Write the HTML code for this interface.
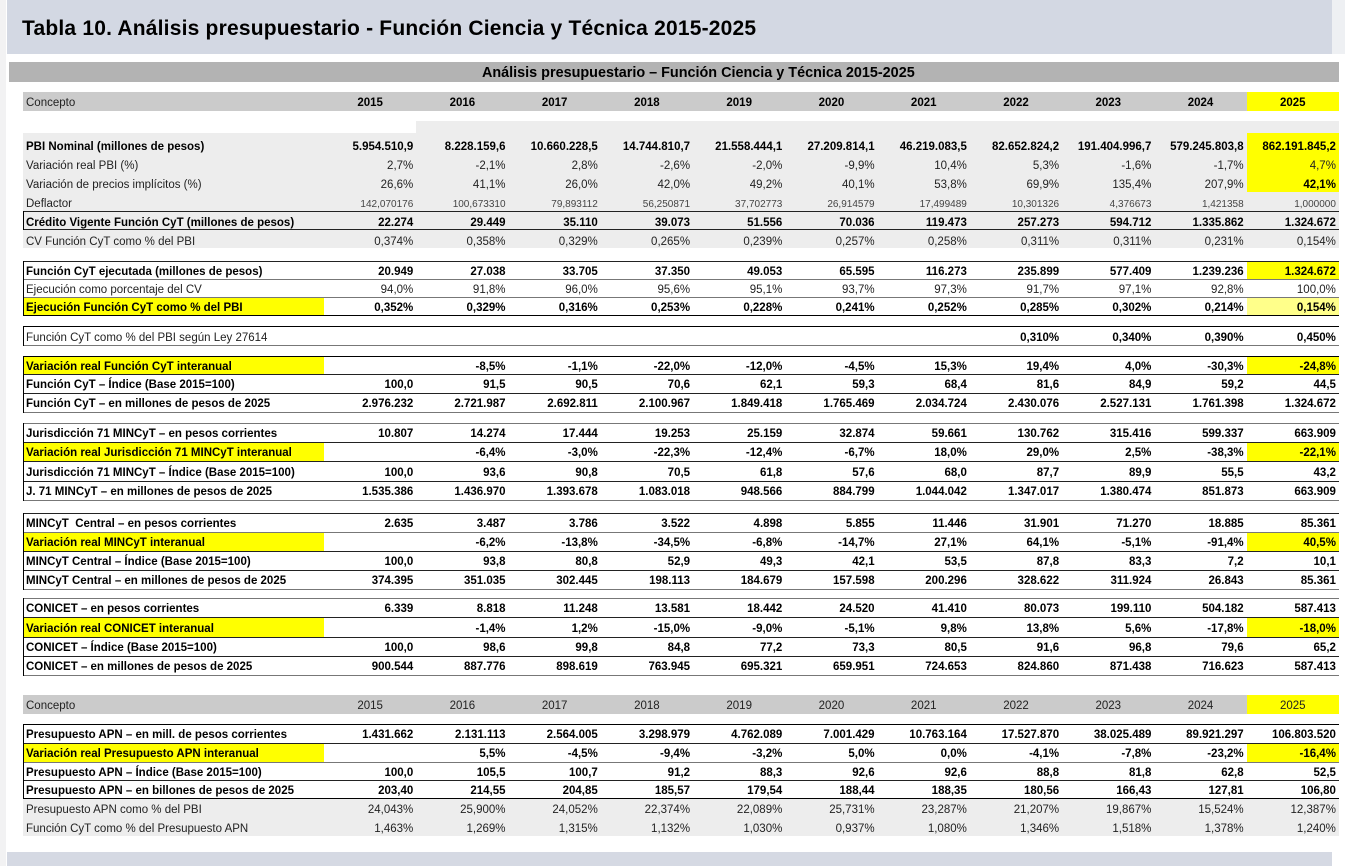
<!DOCTYPE html>
<html><head><meta charset="utf-8">
<style>
html,body{margin:0;padding:0}
body{width:1345px;height:866px;position:relative;background:#fff;font-family:"Liberation Sans",Arial,sans-serif;overflow:hidden}
.a{position:absolute}
.r{position:absolute;left:23px;width:1316px;display:flex;font-size:11.5px;color:#222}
.r div{height:100%;box-sizing:border-box;white-space:nowrap;padding-top:2px}
.l{width:301px;padding-left:3px;flex:none}
.v{width:92.27px;text-align:right;padding-right:3px;flex:none}
.c{width:92.27px;text-align:center;flex:none}
.b{font-weight:bold;color:#000}
.y{background:#ffff00}
.py{background:#ffff8a}
.s{font-size:10px;color:#444}
.h{position:absolute;left:23px;width:1316px;height:1px;background:#222}
.hg{position:absolute;left:23px;width:1316px;height:1px;background:#777}
.vl{position:absolute;left:23px;width:1px;background:#000}
</style></head><body>
<div class="a" style="left:0;top:0;width:6px;height:866px;background:#f2f2f3"></div>
<div class="a" style="left:1332px;top:0;width:13px;height:54px;background:#eef0f3"></div>
<div class="a" style="left:7px;top:0;width:1325px;height:54px;background:#d3d8e3"></div>
<div class="a" style="left:22px;top:17px;font-size:21px;font-weight:bold;letter-spacing:0.2px;color:#000;line-height:24px;white-space:nowrap">Tabla 10. Análisis presupuestario - Función Ciencia y Técnica 2015-2025</div>
<div class="a" style="left:9px;top:62px;width:1330px;height:20px;background:#b3b3b3"></div>
<div class="a" style="left:482px;top:63px;height:20px;line-height:20px;font-size:14.4px;font-weight:bold;color:#000;white-space:nowrap">Análisis presupuestario – Función Ciencia y Técnica 2015-2025</div>
<div class="a" style="left:23px;top:92px;width:1316px;height:19px;background:#cbcbcb"></div>
<div class="r" style="top:92px;height:19px;line-height:19px"><div class="l">Concepto</div><div class="c b">2015</div><div class="c b">2016</div><div class="c b">2017</div><div class="c b">2018</div><div class="c b">2019</div><div class="c b">2020</div><div class="c b">2021</div><div class="c b">2022</div><div class="c b">2023</div><div class="c b">2024</div><div class="c b y">2025</div></div>
<div class="a" style="left:416px;top:121px;width:923px;height:12px;background:#ededed"></div>
<div class="a" style="left:23px;top:133px;width:1316px;height:115px;background:#ededed"></div>
<div class="a" style="left:1246.7px;top:133px;width:92.3px;height:59px;background:#ffff00"></div>
<div class="r b" style="top:136px;height:19px;line-height:19px"><div class="l">PBI Nominal (millones de pesos)</div><div class="v">5.954.510,9</div><div class="v">8.228.159,6</div><div class="v">10.660.228,5</div><div class="v">14.744.810,7</div><div class="v">21.558.444,1</div><div class="v">27.209.814,1</div><div class="v">46.219.083,5</div><div class="v">82.652.824,2</div><div class="v">191.404.996,7</div><div class="v">579.245.803,8</div><div class="v">862.191.845,2</div></div>
<div class="r" style="top:155px;height:19px;line-height:19px"><div class="l">Variación real PBI (%)</div><div class="v">2,7%</div><div class="v">-2,1%</div><div class="v">2,8%</div><div class="v">-2,6%</div><div class="v">-2,0%</div><div class="v">-9,9%</div><div class="v">10,4%</div><div class="v">5,3%</div><div class="v">-1,6%</div><div class="v">-1,7%</div><div class="v">4,7%</div></div>
<div class="r" style="top:174px;height:19px;line-height:19px"><div class="l">Variación de precios implícitos (%)</div><div class="v">26,6%</div><div class="v">41,1%</div><div class="v">26,0%</div><div class="v">42,0%</div><div class="v">49,2%</div><div class="v">40,1%</div><div class="v">53,8%</div><div class="v">69,9%</div><div class="v">135,4%</div><div class="v">207,9%</div><div class="v b">42,1%</div></div>
<div class="r" style="top:193px;height:19px;line-height:19px"><div class="l">Deflactor</div><div class="v s">142,070176</div><div class="v s">100,673310</div><div class="v s">79,893112</div><div class="v s">56,250871</div><div class="v s">37,702773</div><div class="v s">26,914579</div><div class="v s">17,499489</div><div class="v s">10,301326</div><div class="v s">4,376673</div><div class="v s">1,421358</div><div class="v s">1,000000</div></div>
<div class="r b" style="top:212px;height:18px;line-height:18px"><div class="l">Crédito Vigente Función CyT (millones de pesos)</div><div class="v">22.274</div><div class="v">29.449</div><div class="v">35.110</div><div class="v">39.073</div><div class="v">51.556</div><div class="v">70.036</div><div class="v">119.473</div><div class="v">257.273</div><div class="v">594.712</div><div class="v">1.335.862</div><div class="v">1.324.672</div></div>
<div class="r" style="top:231px;height:18px;line-height:18px"><div class="l">CV Función CyT como % del PBI</div><div class="v">0,374%</div><div class="v">0,358%</div><div class="v">0,329%</div><div class="v">0,265%</div><div class="v">0,239%</div><div class="v">0,257%</div><div class="v">0,258%</div><div class="v">0,311%</div><div class="v">0,311%</div><div class="v">0,231%</div><div class="v">0,154%</div></div>
<div class="h" style="top:211px"></div><div class="h" style="top:229px"></div><div class="vl" style="top:211px;height:19px"></div>

<div class="r b" style="top:261px;height:18px;line-height:18px"><div class="l">Función CyT ejecutada (millones de pesos)</div><div class="v">20.949</div><div class="v">27.038</div><div class="v">33.705</div><div class="v">37.350</div><div class="v">49.053</div><div class="v">65.595</div><div class="v">116.273</div><div class="v">235.899</div><div class="v">577.409</div><div class="v">1.239.236</div><div class="v y">1.324.672</div></div>
<div class="r" style="top:279px;height:18px;line-height:18px"><div class="l">Ejecución como porcentaje del CV</div><div class="v">94,0%</div><div class="v">91,8%</div><div class="v">96,0%</div><div class="v">95,6%</div><div class="v">95,1%</div><div class="v">93,7%</div><div class="v">97,3%</div><div class="v">91,7%</div><div class="v">97,1%</div><div class="v">92,8%</div><div class="v">100,0%</div></div>
<div class="r b" style="top:297px;height:18px;line-height:18px"><div class="l y">Ejecución Función CyT como % del PBI</div><div class="v">0,352%</div><div class="v">0,329%</div><div class="v">0,316%</div><div class="v">0,253%</div><div class="v">0,228%</div><div class="v">0,241%</div><div class="v">0,252%</div><div class="v">0,285%</div><div class="v">0,302%</div><div class="v">0,214%</div><div class="v py">0,154%</div></div>
<div class="h" style="top:261px"></div><div class="hg" style="top:279px"></div><div class="hg" style="top:297px"></div><div class="h" style="top:315px;background:#000"></div><div class="vl" style="top:261px;height:55px"></div>

<div class="r" style="top:327px;height:19px;line-height:19px"><div class="l">Función CyT como % del PBI según Ley 27614</div><div class="v"></div><div class="v"></div><div class="v"></div><div class="v"></div><div class="v"></div><div class="v"></div><div class="v"></div><div class="v b">0,310%</div><div class="v b">0,340%</div><div class="v b">0,390%</div><div class="v b">0,450%</div></div>
<div class="h" style="top:326px;background:#000"></div><div class="hg" style="top:345px"></div><div class="vl" style="top:326px;height:20px"></div>

<div class="r b" style="top:356px;height:18px;line-height:18px"><div class="l y">Variación real Función CyT interanual</div><div class="v"></div><div class="v">-8,5%</div><div class="v">-1,1%</div><div class="v">-22,0%</div><div class="v">-12,0%</div><div class="v">-4,5%</div><div class="v">15,3%</div><div class="v">19,4%</div><div class="v">4,0%</div><div class="v">-30,3%</div><div class="v y">-24,8%</div></div>
<div class="r b" style="top:374px;height:19px;line-height:19px"><div class="l">Función CyT – Índice (Base 2015=100)</div><div class="v">100,0</div><div class="v">91,5</div><div class="v">90,5</div><div class="v">70,6</div><div class="v">62,1</div><div class="v">59,3</div><div class="v">68,4</div><div class="v">81,6</div><div class="v">84,9</div><div class="v">59,2</div><div class="v">44,5</div></div>
<div class="r b" style="top:393px;height:19px;line-height:19px"><div class="l">Función CyT – en millones de pesos de 2025</div><div class="v">2.976.232</div><div class="v">2.721.987</div><div class="v">2.692.811</div><div class="v">2.100.967</div><div class="v">1.849.418</div><div class="v">1.765.469</div><div class="v">2.034.724</div><div class="v">2.430.076</div><div class="v">2.527.131</div><div class="v">1.761.398</div><div class="v">1.324.672</div></div>
<div class="h" style="top:356px;background:#000"></div><div class="h" style="top:374px"></div><div class="h" style="top:393px"></div><div class="hg" style="top:412px"></div><div class="vl" style="top:356px;height:57px"></div>

<div class="r b" style="top:423px;height:19px;line-height:19px"><div class="l">Jurisdicción 71 MINCyT – en pesos corrientes</div><div class="v">10.807</div><div class="v">14.274</div><div class="v">17.444</div><div class="v">19.253</div><div class="v">25.159</div><div class="v">32.874</div><div class="v">59.661</div><div class="v">130.762</div><div class="v">315.416</div><div class="v">599.337</div><div class="v">663.909</div></div>
<div class="r b" style="top:442px;height:19px;line-height:19px"><div class="l y">Variación real Jurisdicción 71 MINCyT interanual</div><div class="v"></div><div class="v">-6,4%</div><div class="v">-3,0%</div><div class="v">-22,3%</div><div class="v">-12,4%</div><div class="v">-6,7%</div><div class="v">18,0%</div><div class="v">29,0%</div><div class="v">2,5%</div><div class="v">-38,3%</div><div class="v y">-22,1%</div></div>
<div class="r b" style="top:461px;height:20px;line-height:20px"><div class="l">Jurisdicción 71 MINCyT – Índice (Base 2015=100)</div><div class="v">100,0</div><div class="v">93,6</div><div class="v">90,8</div><div class="v">70,5</div><div class="v">61,8</div><div class="v">57,6</div><div class="v">68,0</div><div class="v">87,7</div><div class="v">89,9</div><div class="v">55,5</div><div class="v">43,2</div></div>
<div class="r b" style="top:481px;height:19px;line-height:19px"><div class="l">J. 71 MINCyT – en millones de pesos de 2025</div><div class="v">1.535.386</div><div class="v">1.436.970</div><div class="v">1.393.678</div><div class="v">1.083.018</div><div class="v">948.566</div><div class="v">884.799</div><div class="v">1.044.042</div><div class="v">1.347.017</div><div class="v">1.380.474</div><div class="v">851.873</div><div class="v">663.909</div></div>
<div class="hg" style="top:423px"></div><div class="h" style="top:442px"></div><div class="h" style="top:461px"></div><div class="h" style="top:481px"></div><div class="hg" style="top:500px"></div><div class="vl" style="top:423px;height:78px"></div>

<div class="r b" style="top:513px;height:19px;line-height:19px"><div class="l">MINCyT&nbsp; Central – en pesos corrientes</div><div class="v">2.635</div><div class="v">3.487</div><div class="v">3.786</div><div class="v">3.522</div><div class="v">4.898</div><div class="v">5.855</div><div class="v">11.446</div><div class="v">31.901</div><div class="v">71.270</div><div class="v">18.885</div><div class="v">85.361</div></div>
<div class="r b" style="top:532px;height:19px;line-height:19px"><div class="l y">Variación real MINCyT interanual</div><div class="v"></div><div class="v">-6,2%</div><div class="v">-13,8%</div><div class="v">-34,5%</div><div class="v">-6,8%</div><div class="v">-14,7%</div><div class="v">27,1%</div><div class="v">64,1%</div><div class="v">-5,1%</div><div class="v">-91,4%</div><div class="v y">40,5%</div></div>
<div class="r b" style="top:551px;height:19px;line-height:19px"><div class="l">MINCyT Central – Índice (Base 2015=100)</div><div class="v">100,0</div><div class="v">93,8</div><div class="v">80,8</div><div class="v">52,9</div><div class="v">49,3</div><div class="v">42,1</div><div class="v">53,5</div><div class="v">87,8</div><div class="v">83,3</div><div class="v">7,2</div><div class="v">10,1</div></div>
<div class="r b" style="top:570px;height:19px;line-height:19px"><div class="l">MINCyT Central – en millones de pesos de 2025</div><div class="v">374.395</div><div class="v">351.035</div><div class="v">302.445</div><div class="v">198.113</div><div class="v">184.679</div><div class="v">157.598</div><div class="v">200.296</div><div class="v">328.622</div><div class="v">311.924</div><div class="v">26.843</div><div class="v">85.361</div></div>
<div class="h" style="top:513px"></div><div class="hg" style="top:532px"></div><div class="h" style="top:551px"></div><div class="h" style="top:570px"></div><div class="hg" style="top:589px"></div><div class="vl" style="top:513px;height:77px"></div>

<div class="r b" style="top:598px;height:19px;line-height:19px"><div class="l">CONICET – en pesos corrientes</div><div class="v">6.339</div><div class="v">8.818</div><div class="v">11.248</div><div class="v">13.581</div><div class="v">18.442</div><div class="v">24.520</div><div class="v">41.410</div><div class="v">80.073</div><div class="v">199.110</div><div class="v">504.182</div><div class="v">587.413</div></div>
<div class="r b" style="top:617px;height:20px;line-height:20px"><div class="l y">Variación real CONICET interanual</div><div class="v"></div><div class="v">-1,4%</div><div class="v">1,2%</div><div class="v">-15,0%</div><div class="v">-9,0%</div><div class="v">-5,1%</div><div class="v">9,8%</div><div class="v">13,8%</div><div class="v">5,6%</div><div class="v">-17,8%</div><div class="v y">-18,0%</div></div>
<div class="r b" style="top:637px;height:19px;line-height:19px"><div class="l">CONICET – Índice (Base 2015=100)</div><div class="v">100,0</div><div class="v">98,6</div><div class="v">99,8</div><div class="v">84,8</div><div class="v">77,2</div><div class="v">73,3</div><div class="v">80,5</div><div class="v">91,6</div><div class="v">96,8</div><div class="v">79,6</div><div class="v">65,2</div></div>
<div class="r b" style="top:656px;height:19px;line-height:19px"><div class="l">CONICET – en millones de pesos de 2025</div><div class="v">900.544</div><div class="v">887.776</div><div class="v">898.619</div><div class="v">763.945</div><div class="v">695.321</div><div class="v">659.951</div><div class="v">724.653</div><div class="v">824.860</div><div class="v">871.438</div><div class="v">716.623</div><div class="v">587.413</div></div>
<div class="hg" style="top:598px"></div><div class="h" style="top:617px"></div><div class="h" style="top:637px"></div><div class="h" style="top:656px"></div><div class="hg" style="top:675px"></div><div class="vl" style="top:598px;height:78px"></div>

<div class="a" style="left:23px;top:695px;width:1316px;height:19px;background:#cbcbcb"></div>
<div class="r" style="top:695px;height:19px;line-height:19px"><div class="l">Concepto</div><div class="c">2015</div><div class="c">2016</div><div class="c">2017</div><div class="c">2018</div><div class="c">2019</div><div class="c">2020</div><div class="c">2021</div><div class="c">2022</div><div class="c">2023</div><div class="c">2024</div><div class="c y">2025</div></div>

<div class="r b" style="top:724px;height:19px;line-height:19px"><div class="l">Presupuesto APN – en mill. de pesos corrientes</div><div class="v">1.431.662</div><div class="v">2.131.113</div><div class="v">2.564.005</div><div class="v">3.298.979</div><div class="v">4.762.089</div><div class="v">7.001.429</div><div class="v">10.763.164</div><div class="v">17.527.870</div><div class="v">38.025.489</div><div class="v">89.921.297</div><div class="v">106.803.520</div></div>
<div class="r b" style="top:743px;height:19px;line-height:19px"><div class="l y">Variación real Presupuesto APN interanual</div><div class="v"></div><div class="v">5,5%</div><div class="v">-4,5%</div><div class="v">-9,4%</div><div class="v">-3,2%</div><div class="v">5,0%</div><div class="v">0,0%</div><div class="v">-4,1%</div><div class="v">-7,8%</div><div class="v">-23,2%</div><div class="v y">-16,4%</div></div>
<div class="r b" style="top:762px;height:18px;line-height:18px"><div class="l">Presupuesto APN – Índice (Base 2015=100)</div><div class="v">100,0</div><div class="v">105,5</div><div class="v">100,7</div><div class="v">91,2</div><div class="v">88,3</div><div class="v">92,6</div><div class="v">92,6</div><div class="v">88,8</div><div class="v">81,8</div><div class="v">62,8</div><div class="v">52,5</div></div>
<div class="r b" style="top:780px;height:18px;line-height:18px"><div class="l">Presupuesto APN – en billones de pesos de 2025</div><div class="v">203,40</div><div class="v">214,55</div><div class="v">204,85</div><div class="v">185,57</div><div class="v">179,54</div><div class="v">188,44</div><div class="v">188,35</div><div class="v">180,56</div><div class="v">166,43</div><div class="v">127,81</div><div class="v">106,80</div></div>
<div class="a" style="left:23px;top:799px;width:1316px;height:37px;background:#ededed"></div>
<div class="r" style="top:799px;height:19px;line-height:19px"><div class="l">Presupuesto APN como % del PBI</div><div class="v">24,043%</div><div class="v">25,900%</div><div class="v">24,052%</div><div class="v">22,374%</div><div class="v">22,089%</div><div class="v">25,731%</div><div class="v">23,287%</div><div class="v">21,207%</div><div class="v">19,867%</div><div class="v">15,524%</div><div class="v">12,387%</div></div>
<div class="r" style="top:818px;height:18px;line-height:18px"><div class="l">Función CyT como % del Presupuesto APN</div><div class="v">1,463%</div><div class="v">1,269%</div><div class="v">1,315%</div><div class="v">1,132%</div><div class="v">1,030%</div><div class="v">0,937%</div><div class="v">1,080%</div><div class="v">1,346%</div><div class="v">1,518%</div><div class="v">1,378%</div><div class="v">1,240%</div></div>
<div class="h" style="top:724px;background:#000"></div><div class="h" style="top:743px"></div><div class="hg" style="top:762px"></div><div class="h" style="top:780px"></div><div class="h" style="top:798px;background:#000"></div><div class="vl" style="top:724px;height:75px"></div>

<div class="a" style="left:7px;top:852px;width:1325px;height:14px;background:#d5d9e3"></div>
</body></html>
